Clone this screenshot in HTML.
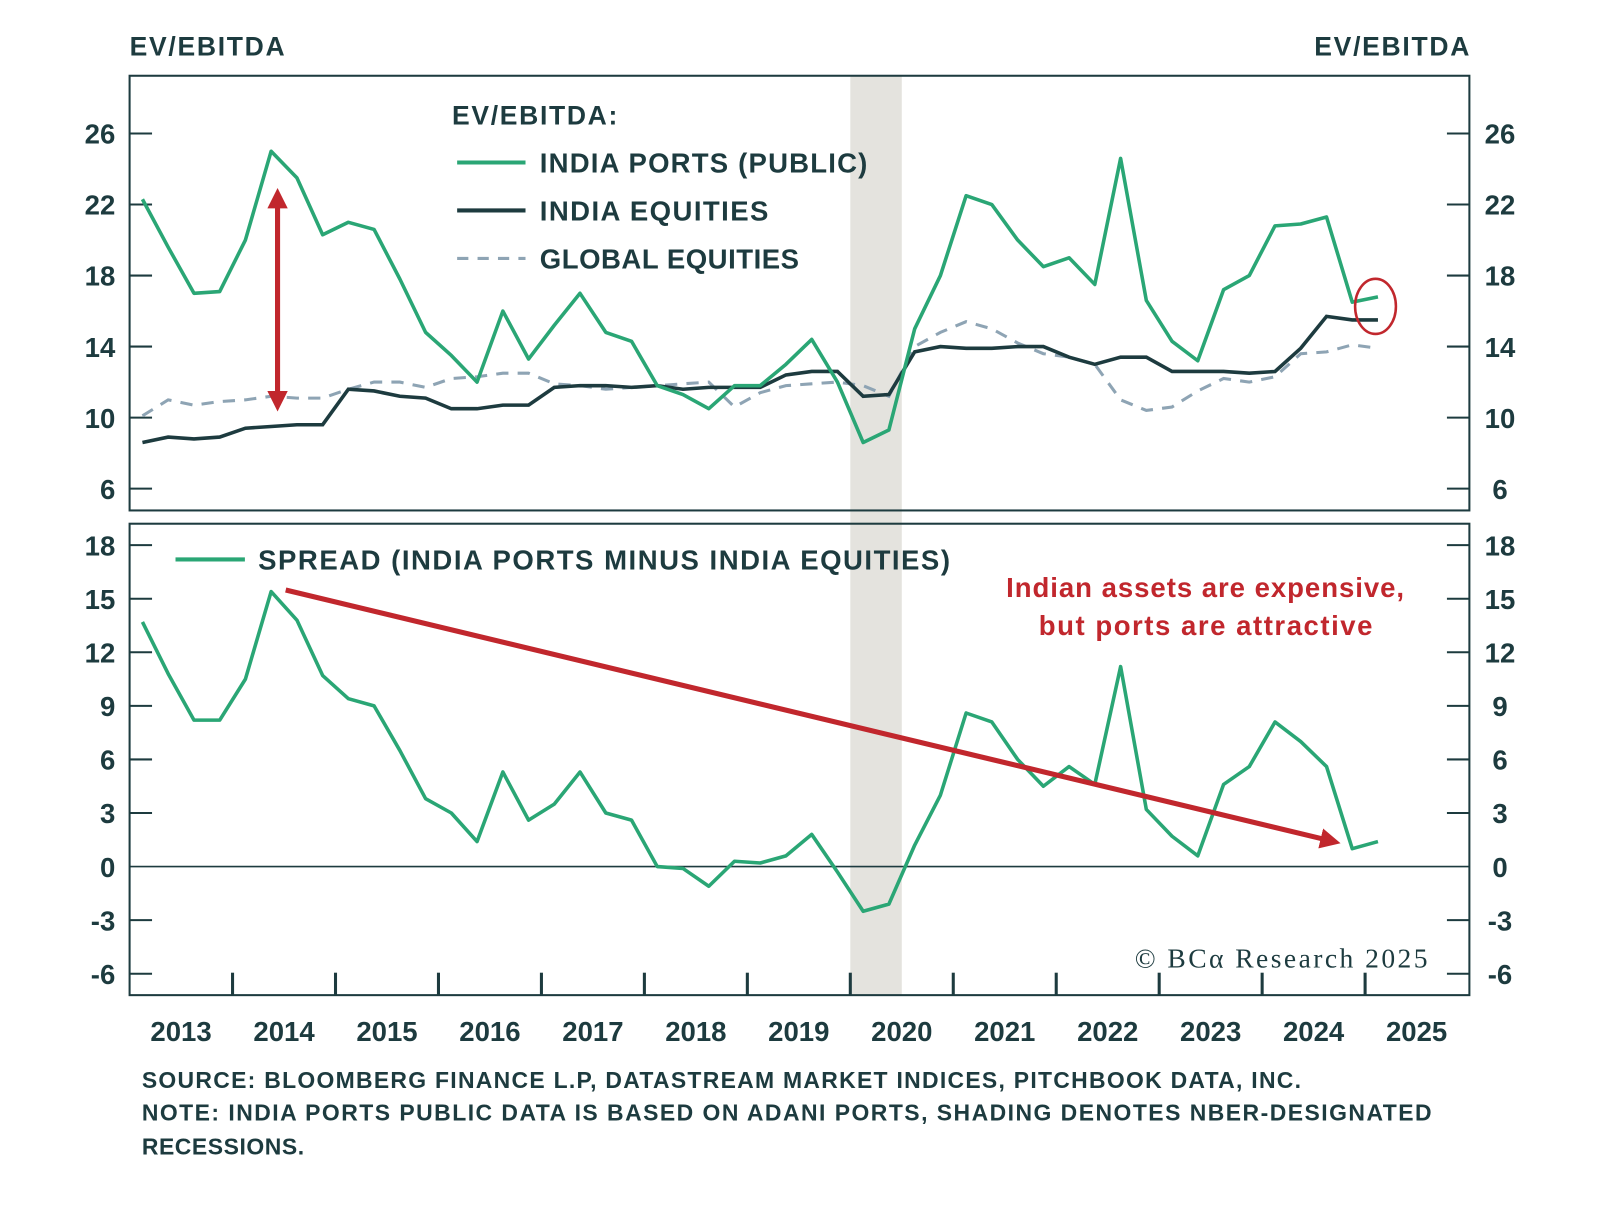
<!DOCTYPE html>
<html><head><meta charset="utf-8"><style>
html,body{margin:0;padding:0;background:#fff;}
svg{display:block;font-family:"Liberation Sans",sans-serif;}
text{fill:#1d3b3f;}
</style></head><body>
<svg id="chart" width="1600" height="1226" viewBox="0 0 1568 1201" xmlns="http://www.w3.org/2000/svg">
<g id="root"></g>
</svg>
<script>
const quarters0 = 2013.125;
const portsValues = [22.3,19.6,17,17.1,20,25,23.5,20.3,21,20.6,17.8,14.8,13.5,12,16,13.3,15.2,17,14.8,14.3,11.8,11.3,10.5,11.8,11.8,13,14.4,12,8.6,9.3,15,18,22.5,22,20,18.5,19,17.5,24.6,16.6,14.3,13.2,17.2,18,20.8,20.9,21.3,16.5,16.8];
const indiaEqValues = [8.6,8.9,8.8,8.9,9.4,9.5,9.6,9.6,11.6,11.5,11.2,11.1,10.5,10.5,10.7,10.7,11.7,11.8,11.8,11.7,11.8,11.6,11.7,11.7,11.7,12.4,12.6,12.6,11.2,11.3,13.7,14,13.9,13.9,14,14,13.4,13,13.4,13.4,12.6,12.6,12.6,12.5,12.6,13.9,15.7,15.5,15.5];
const globalEqValues = [10.1,11,10.7,10.9,11,11.2,11.1,11.1,11.6,12,12,11.7,12.2,12.3,12.5,12.5,11.9,11.8,11.6,11.7,11.8,11.9,12,10.6,11.4,11.8,11.9,12,11.8,11.2,14,14.8,15.4,15,14.2,13.6,13.4,13,11,10.4,10.6,11.5,12.2,12,12.3,13.6,13.7,14.1,13.9];
const spreadValues = [13.7,10.8,8.2,8.2,10.5,15.4,13.8,10.7,9.4,9,6.5,3.8,3,1.4,5.3,2.6,3.5,5.3,3,2.6,0,-0.1,-1.1,0.3,0.2,0.6,1.8,-0.3,-2.5,-2.1,1.2,4,8.6,8.1,6,4.5,5.6,4.6,11.2,3.2,1.7,0.6,4.6,5.6,8.1,7,5.6,1,1.4];
const topTicks = [6,10,14,18,22,26];
const bottomTicks = [-6,-3,0,3,6,9,12,15,18];
const yearLabels = [2013,2014,2015,2016,2017,2018,2019,2020,2021,2022,2023,2024,2025];
const recession = [2020.0,2020.5];

const NS="http://www.w3.org/2000/svg";
const root=document.getElementById('root');
const L=127,R=1440,T1=74,B1=500,T2=513,B2=975;
const x=t=>L+(t-2013)*100.9;
const yT=v=>409-(v-10)*17.4;
const yB=v=>849-v*17.5;
function mk(tag,a,parent){const e=document.createElementNS(NS,tag);for(const k in a)e.setAttribute(k,a[k]);(parent||root).appendChild(e);return e;}
const dark="#1d3b3f",green="#2aa675",red="#c1272d";

const rs=mk('rect',{x:x(recession[0]),y:T1,width:x(recession[1])-x(recession[0]),height:B2-T1,fill:'#e4e3de'});



const f1=mk('rect',{x:L,y:T1,width:R-L,height:B1-T1,fill:'none',stroke:dark,'stroke-width':2});


const f2=mk('rect',{x:L,y:T2,width:R-L,height:B2-T2,fill:'none',stroke:dark,'stroke-width':2});



topTicks.forEach(v=>{
  const y=yT(v);
  mk('line',{x1:L,x2:L+22,y1:y,y2:y,stroke:dark,'stroke-width':2});
  mk('line',{x1:R-22,x2:R,y1:y,y2:y,stroke:dark,'stroke-width':2});
  const a=mk('text',{x:L-14,y:y+10,'text-anchor':'end','font-size':27,'font-weight':'bold'});a.textContent=v;
  
  
  const b=mk('text',{x:R+30,y:y+10,'text-anchor':'middle','font-size':27,'font-weight':'bold'});b.textContent=v;
  
  
});
bottomTicks.forEach(v=>{
  const y=yB(v);
  if(v===0){mk('line',{x1:L,x2:R,y1:y,y2:y,stroke:dark,'stroke-width':1.5});}
  else{
  mk('line',{x1:L,x2:L+22,y1:y,y2:y,stroke:dark,'stroke-width':2});
  mk('line',{x1:R-22,x2:R,y1:y,y2:y,stroke:dark,'stroke-width':2});}
  const a=mk('text',{x:L-14,y:y+10,'text-anchor':'end','font-size':27,'font-weight':'bold'});a.textContent=v;
  
  
  const b=mk('text',{x:R+30,y:y+10,'text-anchor':'middle','font-size':27,'font-weight':'bold'});b.textContent=v;
  
  
});
yearLabels.forEach((yr,i)=>{
  if(i>0) mk('line',{x1:x(yr),x2:x(yr),y1:B2-22,y2:B2,stroke:dark,'stroke-width':3});
  const t=mk('text',{x:x(yr+0.5),y:B2+45,'text-anchor':'middle','font-size':27,'font-weight':'bold'});t.textContent=yr;
  
  
});

function path(vals,yf){return vals.map((v,i)=>(i?'L':'M')+x(quarters0+i*0.25).toFixed(1)+','+yf(v).toFixed(1)).join('');}
const g=mk('path',{d:path(globalEqValues,yT),fill:'none',stroke:'#8ea4b4','stroke-width':3,'stroke-dasharray':'12 9'});


const e=mk('path',{d:path(indiaEqValues,yT),fill:'none',stroke:dark,'stroke-width':3.5});


const p=mk('path',{d:path(portsValues,yT),fill:'none',stroke:green,'stroke-width':3.5,'stroke-linejoin':'round'});


const s=mk('path',{d:path(spreadValues,yB),fill:'none',stroke:green,'stroke-width':3.5,'stroke-linejoin':'round'});



const defs=mk('defs',{});
const m=mk('marker',{id:'ah',markerWidth:4,markerHeight:4,refX:2.2,refY:2,orient:'auto-start-reverse',markerUnits:'strokeWidth'},defs);
mk('path',{d:'M0,0 L4,2 L0,4 Z',fill:red},m);
const va=mk('line',{x1:272,y1:193,x2:272,y2:394,stroke:red,'stroke-width':5,'marker-start':'url(#ah)','marker-end':'url(#ah)'});


const da=mk('line',{x1:280,y1:578,x2:1305,y2:824,stroke:red,'stroke-width':5,'marker-end':'url(#ah)'});


const el=mk('ellipse',{cx:1348,cy:300,rx:20,ry:27,fill:'none',stroke:red,'stroke-width':2.5});



function txt(s,a,name){const t=mk('text',a);t.textContent=s;return t;}
txt('EV/EBITDA',{x:127,y:54,'font-size':26,'font-weight':'bold',textLength:152},'left-axis-title');
txt('EV/EBITDA',{x:1288,y:54,'font-size':26,'font-weight':'bold',textLength:152},'right-axis-title');
txt('EV/EBITDA:',{x:443,y:122,'font-size':26,'font-weight':'bold',textLength:162},'legend-title');
mk('line',{x1:448,x2:515,y1:159,y2:159,stroke:green,'stroke-width':4});
txt('INDIA PORTS (PUBLIC)',{x:529,y:169,'font-size':27,'font-weight':'bold',textLength:321},'legend-entry-ports');
mk('line',{x1:448,x2:515,y1:206,y2:206,stroke:dark,'stroke-width':4});
txt('INDIA EQUITIES',{x:529,y:216,'font-size':27,'font-weight':'bold',textLength:224},'legend-entry-india-equities');
mk('line',{x1:448,x2:515,y1:253,y2:253,stroke:'#8ea4b4','stroke-width':3,'stroke-dasharray':'11 9'});
txt('GLOBAL EQUITIES',{x:529,y:263,'font-size':27,'font-weight':'bold',textLength:254},'legend-entry-global-equities');
mk('line',{x1:172,x2:240,y1:548,y2:548,stroke:green,'stroke-width':4});
txt('SPREAD (INDIA PORTS MINUS INDIA EQUITIES)',{x:253,y:558,'font-size':27,'font-weight':'bold',textLength:678},'legend-entry-spread');
txt('Indian assets are expensive,',{x:986,y:585,'font-size':27,'font-weight':'bold',textLength:390,style:'fill:'+red},'annotation-line-1');
txt('but ports are attractive',{x:1018,y:622,'font-size':27,'font-weight':'bold',textLength:327,style:'fill:'+red},'annotation-line-2');
txt('© BCα Research 2025',{x:1112,y:948,'font-size':27,'font-family':'Liberation Serif, serif',textLength:287},'copyright');
txt('SOURCE: BLOOMBERG FINANCE L.P, DATASTREAM MARKET INDICES, PITCHBOOK DATA, INC.',{x:139,y:1066,'font-size':22.5,'font-weight':'bold',textLength:1136},'source-note');
txt('NOTE: INDIA PORTS PUBLIC DATA IS BASED ON ADANI PORTS, SHADING DENOTES NBER-DESIGNATED',{x:139,y:1098,'font-size':22.5,'font-weight':'bold',textLength:1264},'note-line-1');
txt('RECESSIONS.',{x:139,y:1131,'font-size':22.5,'font-weight':'bold',textLength:159},'note-line-2');
</script>
</body></html>
